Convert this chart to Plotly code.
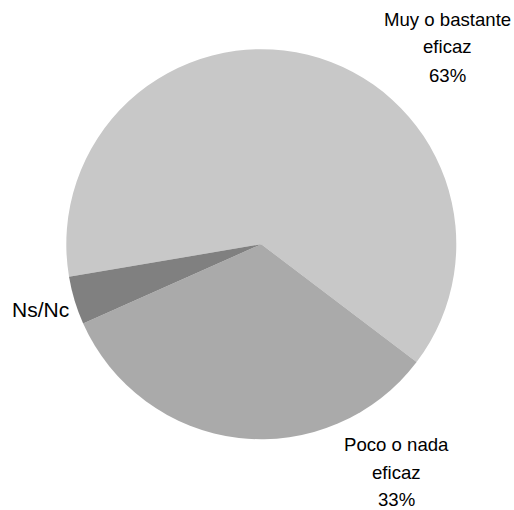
"""
Pie chart: perceived efficacy (Muy o bastante eficaz / Poco o nada eficaz / Ns/Nc).
"""
import plotly.graph_objects as go

# Data
labels = ["Muy o bastante eficaz", "Poco o nada eficaz", "Ns/Nc"]
values = [63, 33, 4]
colors = ["#c8c8c8", "#aaaaaa", "#808080"]

# Label lines as they appear in the chart (label split + percentage)
label_lines = [["Muy o bastante", "eficaz"], ["Poco o nada", "eficaz"], ["Ns/Nc"]]
show_pct = [True, True, False]

W, H = 514, 510

fig = go.Figure(data=[go.Pie(
    labels=labels,
    values=values,
    sort=False,
    direction="clockwise",
    rotation=260.4,
    marker=dict(colors=colors, line=dict(width=0)),
    textinfo="none",
    hoverinfo="label+percent",
    showlegend=False,
    domain=dict(x=[66.3 / W, 456.3 / W], y=[70.8 / H, 460.8 / H]),
)])

# Label placement (pixel positions of line centres) and font sizes
label_pos = [(447, [19.6, 46.6, 75.4]), (396, [444.6, 472.6, 499.4]), (40, [309.2])]
label_size = [18.6, 18.6, 21]

annotations = []
for i, lines in enumerate(label_lines):
    texts = list(lines)
    if show_pct[i]:
        texts.append(f"{values[i]}%")
    cx, ys = label_pos[i]
    for txt, py in zip(texts, ys):
        annotations.append(dict(
            x=cx / W, y=1 - py / H, xref="paper", yref="paper",
            text=txt, showarrow=False, xanchor="center", yanchor="middle",
            font=dict(family="Liberation Sans, Arial, sans-serif",
                      size=label_size[i], color="#000000"),
        ))

fig.update_layout(
    width=W, height=H,
    margin=dict(l=0, r=0, t=0, b=0),
    paper_bgcolor="white",
    plot_bgcolor="white",
    annotations=annotations,
    template="plotly_white",
)

# remove the default page margin so the figure fills the window exactly
fig.write_html("out.html",
               config={"displayModeBar": False},
               post_script="document.body.style.margin='0px';")
